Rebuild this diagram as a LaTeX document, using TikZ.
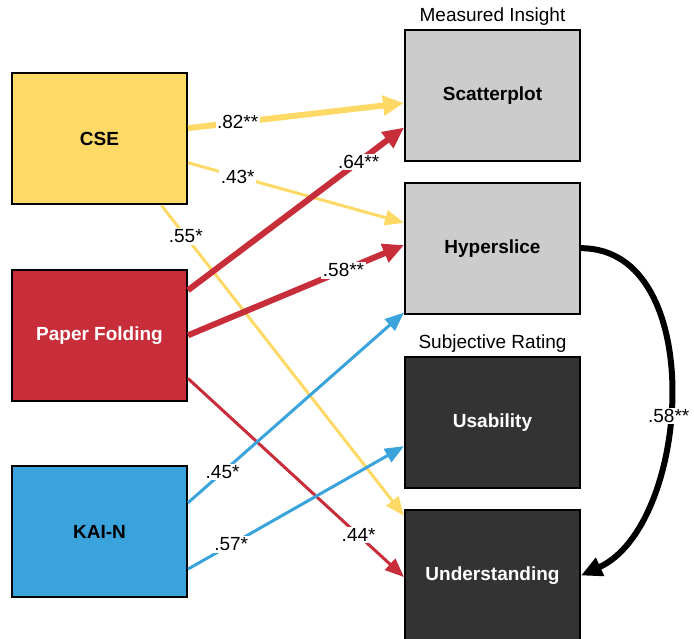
\documentclass[tikz,border=0pt]{standalone}
\usepackage{fontspec}
\setmainfont{Liberation Sans}
\usepackage{tikz}
\usetikzlibrary{arrows.meta,positioning}
\definecolor{gold}{HTML}{FFD966}
\definecolor{crimson}{HTML}{C82D3A}
\definecolor{sky}{HTML}{3AA3DB}
\definecolor{silver}{HTML}{CCCCCC}
\definecolor{dark}{HTML}{333333}

\tikzset{
  box/.style={draw=black, line width=2pt, minimum width=175pt, minimum height=131pt,
    inner sep=0pt, font=\fontsize{19}{22}\selectfont\bfseries},
  grouptitle/.style={inner sep=3pt, font=\fontsize{19}{22}\selectfont},
  lbl/.style={fill=white, inner sep=1.5pt, text=black, font=\fontsize{19}{22}\selectfont},
  bigarrow/.style={line width=6pt, -{Triangle[length=21pt,width=19pt]}},
  smallarrow/.style={line width=3pt, -{Triangle[length=19pt,width=15pt]}}
}

\begin{document}
\begin{tikzpicture}[x=1pt,y=-1pt]
  \useasboundingbox (0,0) rectangle (694,639);

  % Predittori (colonna sinistra)
  \node[box, fill=gold]                (cse) at (99.5,139)   {CSE};
  \node[box, fill=crimson, text=white] (pf)  at (99.5,335.3) {Paper Folding};
  \node[box, fill=sky]                 (kai) at (99.5,531.5) {KAI-N};

  % Esiti (colonna destra)
  \node[box, fill=silver]           (scat)  at (492.5,95.4)  {Scatterplot};
  \node[box, fill=silver]           (hyper) at (492.5,248.2) {Hyperslice};
  \node[box, fill=dark, text=white] (usab)  at (492.5,422.5) {Usability};
  \node[box, fill=dark, text=white] (under) at (492.5,575.5) {Understanding};

  % Titoli dei gruppi
  \node[grouptitle, above=0pt of scat] (tmeas) {Measured Insight};
  \node[grouptitle, above=0pt of usab] (tsubj) {Subjective Rating};

  % Frecce da CSE
  \draw[gold, bigarrow]   (cse.7)     -- node[lbl, pos=0.23] {.82**} (scat.185);
  \draw[gold, smallarrow] (cse.-15)   -- node[lbl, pos=0.23] {.43*}  (hyper.164);
  \draw[gold, smallarrow] (cse.-47.5) -- node[lbl, pos=0.10] {.55*}  (under.146.5);

  % Frecce da Paper Folding
  \draw[crimson, bigarrow]   (pf.27.7)  -- node[lbl, pos=0.79] {.64**} (scat.200.4);
  \draw[crimson, bigarrow]   (pf.-0.5)  -- node[lbl, pos=0.72] {.58**} (hyper.178);
  \draw[crimson, smallarrow] (pf.-26.2) -- node[lbl, pos=0.79] {.44*}  (under.181.3);

  % Frecce da KAI-N
  \draw[sky, smallarrow] (kai.18.6)  -- node[lbl, pos=0.16] {.45*} (hyper.216);
  \draw[sky, smallarrow] (kai.-23.2) -- node[lbl, pos=0.20] {.57*} (usab.195.6);

  % Hyperslice -> Understanding
  \draw[black, bigarrow] (hyper.east) .. controls +(128,0) and +(110,-50) ..
    node[lbl, pos=0.55] {.58**} (under.east);
\end{tikzpicture}
\end{document}
